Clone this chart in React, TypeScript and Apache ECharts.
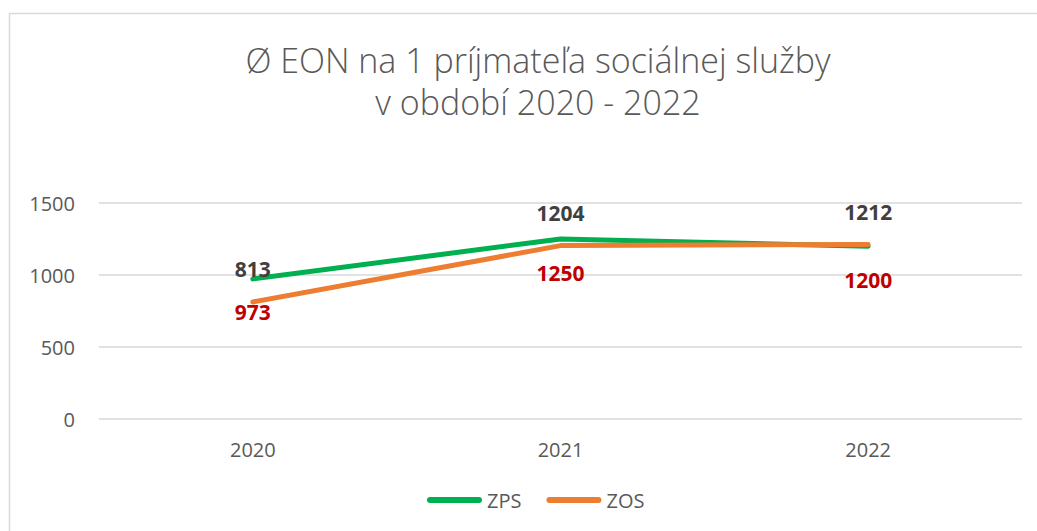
import React, { useEffect, useRef } from "react";
import * as echarts from "echarts";

const years = ["2020", "2021", "2022"];
const zps = [973, 1250, 1200];
const zos = [813, 1204, 1212];
const titleLines = ["Ø EON na 1 príjmateľa sociálnej služby", "v období 2020 - 2022"];

const FONT = "'Open Sans', sans-serif";

export default function App() {
  const ref = useRef<HTMLDivElement>(null);
  useEffect(() => {
    document.body.style.margin = "0";
    const chart = echarts.init(ref.current!, null, { renderer: "svg" });
    chart.setOption({
      animation: false,
      backgroundColor: "#ffffff",
      textStyle: { fontFamily: FONT },
      title: {
        text: titleLines.join("\n"),
        left: 533,
        textAlign: "center",
        top: 34,
        textStyle: {
          fontFamily: FONT,
          fontWeight: 300,
          fontSize: 34,
          lineHeight: 42,
          color: "#595959",
        },
      },
      graphic: [
        {
          type: "rect",
          shape: { x: 9.5, y: 13.5, width: 1100, height: 600 },
          style: { fill: "none", stroke: "#d9d9d9", lineWidth: 1.5 },
          silent: true,
        },
      ],
      grid: { left: 99, right: 15, top: 203, bottom: 112 },
      xAxis: {
        type: "category",
        data: years,
        boundaryGap: true,
        axisLine: { show: false },
        axisTick: { show: false },
        axisLabel: { color: "#595959", fontSize: 20, margin: 20, fontFamily: FONT },
      },
      yAxis: {
        type: "value",
        min: 0,
        max: 1500,
        interval: 500,
        axisLine: { show: false },
        axisTick: { show: false },
        axisLabel: {
          color: "#595959",
          fontSize: 20,
          margin: 24,
          fontFamily: FONT,
          formatter: (v: number) => String(v),
        },
        splitLine: { lineStyle: { color: "#d9d9d9", width: 1.5 } },
      },
      legend: {
        left: 427,
        top: 490,
        padding: 0,
        itemWidth: 55,
        itemHeight: 6,
        itemGap: 25,
        icon: "path://M3,0 L52,0 A3,3 0 0 1 52,6 L3,6 A3,3 0 0 1 3,0 Z",
        textStyle: { color: "#595959", fontSize: 20, fontFamily: FONT },
        data: ["ZPS", "ZOS"],
      },
      series: [
        {
          name: "ZPS",
          type: "line",
          data: zps,
          color: "#00B050",
          symbol: "circle",
          symbolSize: 0.1,
          lineStyle: { width: 5, color: "#00B050", cap: "round" },
          label: {
            show: true,
            position: "bottom",
            distance: 23,
            color: "#C00000",
            fontWeight: "bold",
            fontSize: 21,
            fontFamily: FONT,
          },
        },
        {
          name: "ZOS",
          type: "line",
          data: zos,
          color: "#ED7D31",
          symbol: "circle",
          symbolSize: 0.1,
          lineStyle: { width: 5, color: "#ED7D31", cap: "round" },
          label: {
            show: true,
            position: "top",
            distance: 22,
            color: "#404040",
            fontWeight: "bold",
            fontSize: 21,
            fontFamily: FONT,
          },
        },
      ],
    });
    return () => chart.dispose();
  }, []);
  return <div ref={ref} style={{ width: 1037, height: 531 }} />;
}
